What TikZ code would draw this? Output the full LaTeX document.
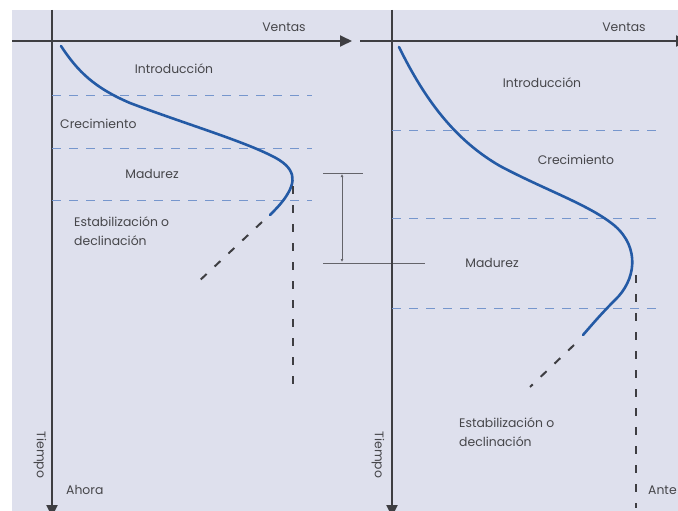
\documentclass[tikz,border=0pt]{standalone}
\usepackage{fontspec}
\setmainfont{Poppins}
\usetikzlibrary{arrows.meta}
\definecolor{paper}{RGB}{222,224,237}
\definecolor{axisgray}{RGB}{62,62,66}
\definecolor{curveblue}{RGB}{36,90,165}
\definecolor{gridblue}{RGB}{118,150,205}
\definecolor{labelgray}{RGB}{70,70,74}
\definecolor{bracketgray}{RGB}{100,100,106}
\begin{document}
\begin{tikzpicture}[x=1pt,y=-1pt,
  axis/.style={axisgray, line width=1.8pt, -{Triangle[length=12pt,width=11pt]}},
  stageline/.style={gridblue, line width=1pt, dash pattern=on 9pt off 8pt},
  salescurve/.style={curveblue, line width=2.6pt, line cap=round},
  trend/.style={axisgray, line width=2pt, dash pattern=on 8pt off 11pt},
  bracket/.style={bracketgray, line width=1pt},
  lbl/.style={text=labelgray, font=\fontsize{12.4}{14}\selectfont, inner sep=0pt},
  lblL/.style={lbl, anchor=west},
  lbl2/.style={lbl, anchor=base west, align=left, font=\fontsize{12.4}{19}\selectfont}]
\useasboundingbox (0,0) rectangle (678,511);
\clip (0,0) rectangle (678,511);
\fill[white] (0,0) rectangle (678,511);
\fill[paper] (12,10) rectangle (678,511);

% ---------- left chart: product life cycle now ----------
\coordinate (LyTop) at (52,10);
\coordinate (LyEnd) at (52,517);
\coordinate (LxStart) at (12,41);
\coordinate (LxEnd) at (352,41);
\draw[axis] (LyTop) -- (LyEnd);
\draw[axis] (LxStart) -- (LxEnd);

\foreach \y/\n in {96/a,148/b,200/c}{
  \coordinate (Lg\n0) at (52,\y);
  \coordinate (Lg\n1) at (312,\y);
  \draw[stageline] (Lg\n0) -- (Lg\n1);
}

\draw[salescurve] (61,46) .. controls (78,72) and (95,88) .. (130,103)
  .. controls (180,122) and (240,140) .. (270,155)
  .. controls (298,168) and (296,182) .. (285,198)
  .. controls (280,205) and (275,210) .. (270,215);

\coordinate (LdA) at (262,222);
\coordinate (LdB) at (197,283);
\draw[trend] (LdA) -- (LdB);
\coordinate (LvA) at (293,186);
\coordinate (LvB) at (293,386);
\draw[trend] (LvA) -- (LvB);

\node[lbl] (Lventas) at (284,27) {Ventas};
\node[lbl] (Lintro) at (174,69) {Introducción};
\node[lblL] (Lcrec) at (60,124) {Crecimiento};
\node[lbl] (Lmad) at (152,174) {Madurez};
\node[lbl2] (Lestab) at (74,245) {Estabilización o\\declinación};
\node[lbl, rotate=-90] (Ltiempo) at (40,455) {Tiempo};
\node[lblL] (Lahora) at (66,490) {Ahora};

% ---------- bracket comparing the two maturity points ----------
\coordinate (BtA) at (323,173);
\coordinate (BtB) at (363,173);
\coordinate (BbA) at (323,263);
\coordinate (BbB) at (425,263);
\coordinate (BvA) at (342,174);
\coordinate (BvB) at (342,262);
\draw[bracket] (BtA) -- (BtB);
\draw[bracket] (BbA) -- (BbB);
\draw[bracket, {Latex[length=3pt,width=3pt]}-{Latex[length=3pt,width=3pt]}] (BvA) -- (BvB);

% ---------- right chart: product life cycle before ----------
\coordinate (RyTop) at (392,10);
\coordinate (RyEnd) at (392,517);
\coordinate (RxStart) at (360,41);
\coordinate (RxEnd) at (688,41);
\draw[axis] (RyTop) -- (RyEnd);
\draw[axis] (RxStart) -- (RxEnd);

\foreach \y/\n in {130/a,218/b,308/c}{
  \coordinate (Rg\n0) at (392,\y);
  \coordinate (Rg\n1) at (662,\y);
  \draw[stageline] (Rg\n0) -- (Rg\n1);
}

\draw[salescurve] (399,47) .. controls (425,100) and (455,140) .. (500,166)
  .. controls (545,190) and (590,205) .. (615,226)
  .. controls (640,248) and (636,280) .. (615,300)
  .. controls (600,315) and (590,327) .. (583,335);

\coordinate (RdA) at (574,345);
\coordinate (RdB) at (530,387);
\draw[trend] (RdA) -- (RdB);
\coordinate (RvA) at (636,275);
\coordinate (RvB) at (636,508);
\draw[trend] (RvA) -- (RvB);

\node[lbl] (Rventas) at (624,27) {Ventas};
\node[lbl] (Rintro) at (542,83) {Introducción};
\node[lbl] (Rcrec) at (576,160) {Crecimiento};
\node[lbl] (Rmad) at (492,263) {Madurez};
\node[lbl2] (Restab) at (459,446) {Estabilización o\\declinación};
\node[lbl, rotate=-90] (Rtiempo) at (378,455) {Tiempo};
\node[lblL] (Rantes) at (648,490) {Ante};
\end{tikzpicture}
\end{document}
